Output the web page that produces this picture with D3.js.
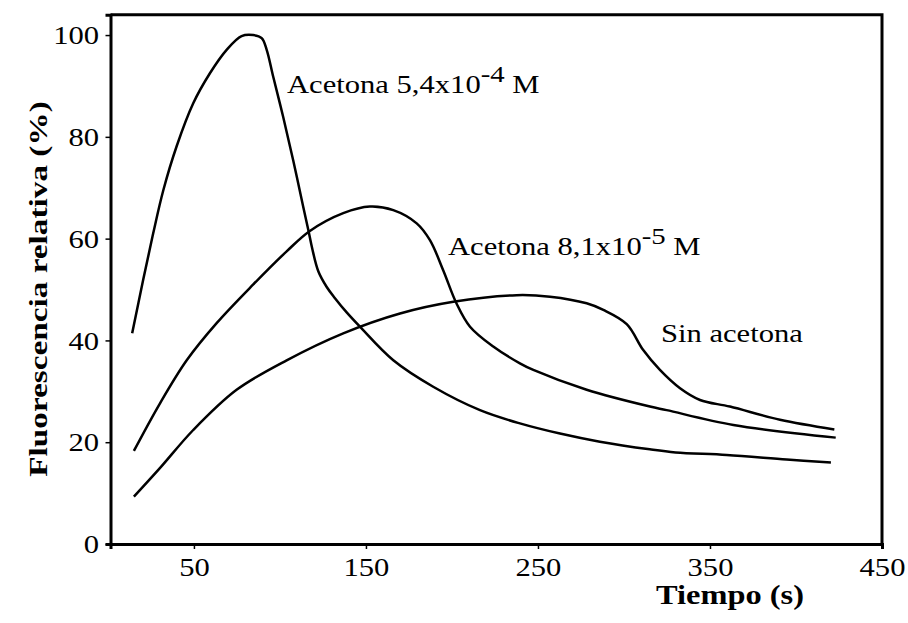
<!DOCTYPE html>
<html><head><meta charset="utf-8">
<script src="https://cdn.jsdelivr.net/npm/d3@7"></script>
<style>body{margin:0;background:#fff}svg{display:block}</style>
</head><body>
<svg id="c" width="908" height="623"></svg>
<script>
// Data (time in s, relative fluorescence in %)
const highTime = [14.1,20.5,26.3,32.2,39.9,49.6,59.3,69.0,77.7,84.5,89.4,92.3,96.1,101.9,107.7,113.5,116.5,118.8,122.3,127.2,132,138.8,146.5,165.9,189.1,216.3,239.5,262.8,286,315,330,359.7,394.6,420.3];
const highValue = [41.4,51.9,61.0,69.5,78.1,86.6,92.5,97.1,99.8,100,99.4,97.1,91.8,83.9,75.4,66.3,61.7,58.0,53.6,50.5,48.3,45.5,42.7,36.1,30.9,26.3,23.7,21.7,20.1,18.6,18.0,17.5,16.6,16.0];
const midTime = [15.1,30.2,45.8,63.2,84.5,103.9,117.4,136.8,152.3,165.9,179.5,187.2,194.9,202.6,210.5,224,239.5,247.3,278.3,315.1,324.8,363.6,423.1];
const midValue = [18.3,27.6,36.1,43.4,51.0,57.5,61.5,65.0,66.3,65.6,63.0,59.7,53.8,47.3,42.7,38.8,35.5,34.2,30.3,27.0,26.3,23.4,20.9];
const noneTime = [15.1,30.2,49.6,74.8,103.9,136.8,169.8,200.8,237.6,257,278.3,288,301.6,311.2,320.9,332.6,344.2,361.6,390.7,422.3];
const noneValue = [9.3,14.9,22.4,30.3,36.1,41.4,45.3,47.6,48.9,48.6,47.3,46,43.2,38.1,34.2,30.6,28.3,27.0,24.4,22.5];
const xTicks = [50,150,250,350,450];
const yTicks = [0,20,40,60,80,100];
const xTitle = "Tiempo (s)";
const yTitle = "Fluorescencia relativa (%)";

const svg = d3.select("#c");
const font = "'Liberation Serif','Times New Roman',serif";
const SX = 1.2; // horizontal stretch of the reference's text

const x = d3.scaleLinear().domain([1.5, 450]).range([110.5, 882]);
const y = d3.scaleLinear().domain([0, 104]).range([544, 14.7]);

// frame top/right
svg.append("path")
  .attr("d", `M${x.range()[0]},${y.range()[1]}H${x.range()[1]}V${y.range()[0]}`)
  .attr("fill","none").attr("stroke","#000").attr("stroke-width",3);

const xAxis = svg.append("g").attr("transform",`translate(0,${y.range()[0]})`)
  .call(d3.axisBottom(x).tickValues(xTicks).tickSizeOuter(0).tickSize(5).tickPadding(5));
const yAxis = svg.append("g").attr("transform",`translate(${x.range()[0]},0)`)
  .call(d3.axisLeft(y).tickValues(yTicks).tickSizeOuter(0).tickSize(5).tickPadding(5));

[xAxis,yAxis].forEach(g=>{
  g.select(".domain").attr("stroke-width",3).attr("stroke","#000");
  g.selectAll(".tick line").attr("stroke-width",1.5).attr("stroke","#000");
  g.selectAll(".tick text").attr("font-family",font).attr("font-size",25.5).attr("fill","#000");
});
xAxis.selectAll(".tick text").attr("dy",null).attr("y",32).attr("transform",`scale(${SX},1)`);
yAxis.selectAll(".tick text").attr("dy","0.34em").attr("x",-9.5).attr("transform",`scale(${SX},1)`);

const line = d3.line().x(d=>x(d[0])).y(d=>y(d[1])).curve(d3.curveCatmullRom.alpha(0.5));
[[highTime,highValue],[midTime,midValue],[noneTime,noneValue]].forEach(([t,v])=>{
  svg.append("path").datum(t.map((d,i)=>[d,v[i]]))
    .attr("d",line).attr("fill","none").attr("stroke","#000").attr("stroke-width",2.5)
    .attr("stroke-linejoin","round");
});

function label(px,py,main,sup,tail){
  const t = svg.append("text").attr("transform",`translate(${px},${py}) scale(${SX},1)`)
    .attr("font-family",font).attr("font-size",25.5).attr("fill","#000");
  t.append("tspan").text(main);
  if(sup){
    t.append("tspan").attr("dy",-11).attr("font-size",24).text(sup);
    t.append("tspan").attr("dy",11).text(tail);
  }
}
label(287,93,"Acetona 5,4x10","-4"," M");
label(448,255,"Acetona 8,1x10","-5"," M");
label(661,342,"Sin acetona");

svg.append("text").attr("transform",`translate(730,604) scale(${SX},1)`)
  .attr("text-anchor","middle").attr("font-family",font).attr("font-weight","bold")
  .attr("font-size",27).text(xTitle);
svg.append("text").attr("transform",`translate(47,289) rotate(-90) scale(1.33,1)`)
  .attr("text-anchor","middle").attr("font-family",font).attr("font-weight","bold")
  .attr("font-size",25).text(yTitle);
</script>
</body></html>
